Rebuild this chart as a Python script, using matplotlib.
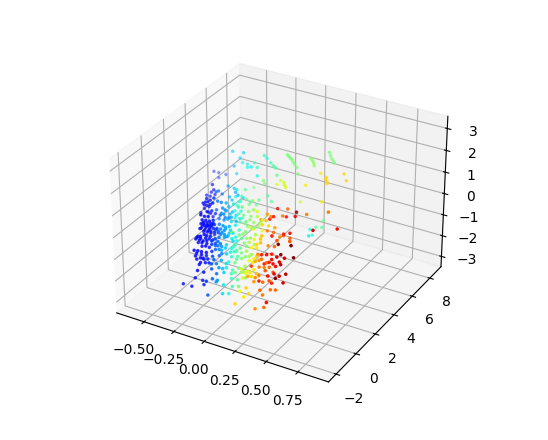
import matplotlib
matplotlib.use("Agg")
import matplotlib.pyplot as plt
from mpl_toolkits.mplot3d import Axes3D  # noqa

# values, grouped by colour band
blue_x = [-.41,-.37,-.37,-.31,-.23,-.16,-.13,
          -.29,-.28,-.30,-.34,-.27,-.31,
          -.25,-.28,-.24,-.22,-.19,-.25,-.23,-.27,-.30,
          -.21,
          -.24,-.21,
          -.18,-.15,
          -.20,
          -.20,-.17,-.14,-.11,-.19,-.16,-.13,-.10,-.21,-.18,-.15,-.13,-.09,-.22,
          -.19,-.17,-.14,-.12,-.09,
          -.10,
          -.21,-.18,-.15,-.12,-.08,-.05,-.16,-.13,-.10,
          -.18,-.15,-.12,-.08,
          -.08,
          -.17,-.13,-.11,-.07,-.13,-.09,-.06,-.14,
          -.11,-.06,-.07,-.06,-.04]
blue_y = [3,3,3,3,-2,-2,-2,
          1.5,1.5,1.5,1.5,1.5,1.5,
          .5,.5,.5,.5,.5,.5,.5,.5,.5,
          -.5,
          .5,.5,
          -.5,-.5,
          .5,
          -.5,-.5,-.5,-.5,-.5,-.5,-.5,-.5,-.5,-.5,-.5,-.5,-.5,-.5,
          -1,-1,-1,-1,-1,
          -.5,
          -1,-1,-1,-1,-1,-1,-1,-1,-1,
          -1.5,-1.5,-1.5,-1.5,
          -1,
          -1.5,-1.5,-1.5,-1.5,-1.5,-1.5,-1.5,-1.5,
          -2,-2,-2,-2,-2]
blue_z = [1.29,1.29,1.06,1.30,-1.56,-1.55,-1.11,
          1.45,1.23,1.09,.89,1.03,.89,
          1.27,1.02,1.14,1.25,1.39,.96,.94,.79,.55,
          1.0,
          .68,.78,
          .98,1.02,
          .53,
          .79,.82,.83,.92,.63,.59,.61,.74,.39,.37,.39,.39,.53,.36,
          .26,.30,.43,.41,.42,
          .29,
          .11,.11,.12,.18,.24,.38,-.14,-.08,-.09,
          -.15,-.12,-.11,-.08,
          -.24,
          -.39,-.41,-.40,-.36,-.62,-.56,-.52,-.73,
          -.74,-.73,-1.12,-1.30,-1.11]
blue_c = [.12,.15,.15,.19,.11,.11,.13,
          .13,.13,.12,.11,.14,.12,
          .12,.11,.13,.14,.16,.12,.13,.11,.10,
          .10,
          .13,.14,
          .12,.13,
          .15,
          .11,.12,.14,.16,.11,.13,.14,.17,.10,.12,.13,.15,.18,.09,
          .09,.10,.12,.13,.15,
          .17,
          .09,.10,.11,.13,.15,.19,.11,.12,.14,
          .10,.11,.12,.14,
          .16,
          .10,.11,.12,.15,.12,.13,.15,.10,
          .12,.15,.15,.16,.17]

# second pass over the dense blue core
blue2_x = [-.19,-.16,-.13,-.11,-.20,-.17,-.14,-.11,-.08,-.19,-.16,-.13,-.10,-.07,-.21,-.12,-.15,-.18,
           -.20,-.17,-.13,-.10,-.07,-.16,-.12,-.08,-.05,-.19,-.03,
           -.16,-.12,-.08,-.16,-.10,
           -.27,-.26,-.22,-.20,-.25,-.22,-.18]
blue2_y = [-.5,-.5,-.5,-.5,-.5,-.5,-.5,-.5,-.5,-.5,-.5,-.5,-.5,-.5,-.5,-.5,-.5,-.5,
           -1,-1,-1,-1,-1,-1,-1,-1,-1,-1,-1,
           -1.5,-1.5,-1.5,-1.5,-1.5,
           .5,.5,.5,.5,.5,.5,.5]
blue2_z = [.70,.72,.74,.78,.50,.50,.50,.55,.60,.28,.30,.30,.40,.42,.60,.68,.62,.58,
           .20,.20,.28,.30,.30,.02,.05,.08,.18,-.02,.30,
           -.25,-.24,-.22,-.52,-.42,
           .95,1.10,1.05,1.15,.68,.65,.70]
blue2_c = [.11,.12,.14,.15,.10,.12,.13,.15,.18,.10,.12,.13,.15,.19,.09,.14,.13,.11,
           .10,.11,.13,.15,.18,.11,.14,.17,.2,.10,.22,
           .11,.13,.16,.11,.14,
           .11,.12,.13,.14,.11,.13,.15]

sky_x = [-.24,-.26,-.21,-.16,-.13,-.17,-.13,-.11,-.15,-.11,-.06,-.03,-.07,-.04,-.01,-.02,-.02,-.05,-.01,-.03,-.02,-.04,-.03,.01,0,-.04,
         -.05,-.02,-.05,-.02,0,-.03,0,-.02,-.05,0,-.12,-.10,-.10,-.14,-.07,0,.02,-.02]
sky_y = [1.5,1.5,1.5,.5,.5,.5,.5,.5,.5,.5,-.5,-.5,-.5,-.5,-.5,-1,-.5,-1,-1,-1.5,-1,-1.5,-2,-2,-1.5,-1.5,
         -.5,-.5,-.5,-.5,-.5,-1,-1,-1,-1,-1,.5,.5,.5,.5,.5,-1.5,-1.5,-1.5]
sky_z = [1.24,1.17,1.15,1.30,1.29,.89,.80,.78,.52,.52,.82,.80,.50,.48,.70,.50,.29,.08,.23,-.17,-.33,-.76,-1.73,-.91,-.91,-.53,
         .62,.60,.38,.42,.36,.10,.12,-.05,-.10,-.20,1.05,1.00,.65,.70,.70,-.45,-.60,-.30]
sky_c = [.22,.2,.24,.24,.25,.22,.25,.27,.23,.26,.25,.28,.23,.26,.29,.24,.27,.21,.24,.2,.22,.2,.2,.22,.23,.2,
         .26,.28,.25,.27,.28,.24,.27,.25,.22,.26,.25,.26,.24,.23,.27,.24,.27,.22]

cyan_x = [-.25,-.19,-.16,-.17,-.13,-.24,-.22,-.16,-.11,-.09,-.15,-.13,-.10,-.09,-.07,-.03,-.07,-.09,-.06,-.02,.01,-.08,-.05,-.02,-.01,.03,.07,.01,.04,0,.04,.08,.04,.08,.05,.05,.10,.09,.14,.04,
          .02,.05,.07,.05,.08,.02,.03,.07,.10,.04,.12,.10,-.04,-.01,.03,-.01,.02,-.05,.08,.10,.12,.06,-.08,-.04,-.10]
cyan_y = [3,3,3,3,3,3,3,1.5,1.5,1.5,1.5,1.5,1.5,.5,.5,.5,1.5,.5,.5,.5,.5,.5,.5,.5,-.5,-.5,-.5,-.5,-.5,-1,-1,-1,-1.5,-1.5,-1.5,-2,-2,-2,-2,-2,
          -.5,-.5,-.5,-.5,-.5,-.5,-1,-1,-1,-1,-1,-1,.5,.5,.5,.5,.5,.5,-1.5,-1.5,-1.5,-1.5,1.5,1.5,1.5]
cyan_z = [2.45,2.24,2.52,2.06,2.05,1.79,1.48,1.59,1.56,1.53,1.11,1.0,1.20,1.33,1.20,1.38,1.02,.97,.88,1.09,1.30,.61,.55,.76,.77,.70,.99,.42,.33,-.05,.26,.17,-.23,-.31,-.59,-.91,-1.03,-1.45,-1.36,-1.0,
          .55,.60,.45,.25,.30,.85,.10,-.02,.05,-.15,.10,.30,1.00,.90,1.15,.62,.80,.75,-.50,-.20,-.70,-.75,1.30,1.25,1.40]
cyan_c = [.33,.34,.33,.36,.36,.3,.32,.3,.33,.36,.3,.32,.36,.3,.32,.36,.4,.3,.33,.38,.4,.3,.34,.38,.3,.34,.38,.32,.36,.3,.34,.38,.3,.35,.32,.28,.36,.34,.38,.28,
          .33,.36,.39,.34,.38,.31,.33,.37,.4,.33,.42,.4,.32,.35,.4,.31,.36,.3,.36,.4,.42,.33,.31,.34,.3]

green_x = [-.05,-.02,-.08,-.06,-.01,0,.04,.01,.04,.01,.05,.09,.13,.02,.06,.10,.16,.10,.15,.11,.17,.12,.19,.23,.11,.15,.20,.22,.08,.13,.19,.24,.13,.18,.23,.12,.17,.17,.22,.23,
           .04,.07,.11,.13,.08,.14,.20,.18,.10,.13,.16,.18,.14,.12,.16,.20,.16,.22,.12,.15,.20,.15,.22,.02,.07,.09]
green_y = [1.5,1.5,3,1.5,1.5,.5,.5,1.5,1.5,.5,.5,.5,.5,.5,.5,.5,.5,-.5,-.5,.5,.5,-.5,-.5,-.5,-1,-1,-1,-.5,-1,-1,-1,-1,-1.5,-1.5,-1.5,-1.5,-1.5,-2,-2,-1.5,
           .5,.5,.5,.5,.5,.5,.5,.5,-.5,-.5,-.5,-.5,-.5,-1,-1,-1,-1,-1,-1,-1.5,-1.5,-1.5,-1.5,1.5,1.5,1.5]
green_z = [1.30,1.65,1.06,1.05,1.23,1.36,1.36,1.02,1.24,1.0,1.0,1.23,1.38,.65,.65,.88,1.12,.82,.83,.52,.70,.48,.61,.83,.38,.30,.47,.36,-.21,-.11,-.02,.17,-.52,-.34,-.17,-.92,-.89,-.98,-.89,-.70,
           .85,.75,1.05,.80,.55,.60,1.00,.85,.60,.70,.55,.40,.30,.15,.10,.25,-.15,.05,-.25,-.60,-.50,-.15,-.45,1.15,1.10,1.35]
green_c = [.44,.46,.5,.42,.48,.44,.48,.5,.52,.44,.48,.52,.55,.44,.5,.52,.58,.44,.5,.52,.56,.46,.52,.56,.42,.46,.5,.56,.4,.45,.5,.55,.44,.5,.55,.42,.46,.44,.5,.54,
           .45,.47,.5,.52,.46,.52,.58,.55,.48,.5,.54,.56,.5,.46,.5,.55,.5,.56,.45,.48,.54,.5,.56,.44,.47,.48]

yellow_x = [.04,.09,.24,.24,.27,.25,.25,.30,.23,.30,.19,.21,.27,.28,.16,.20,.23,
            .13,.20,.25,.22,.27,.24,.26,.22,.28,.28,.24,.32,.20,.26,.28]
yellow_y = [-.5,.5,-1,-.5,-.5,-1,-1.5,-1.5,-2,-2,-2,-1.5,-1.5,-.5,.5,.5,.5,
            .5,.5,.5,-.5,-.5,-.5,-1,-1,-1,-1.5,-1.5,-1.5,-1.5,-2,-2]
yellow_z = [.64,.55,.47,.41,.53,-.18,-.36,-.20,-1.09,-1.08,-1.74,-.74,-.39,.86,1.35,.82,1.05,
            .50,.55,.85,.60,.70,.25,.00,-.15,.15,-.55,-.50,-.35,-.35,-1.30,-.85]
yellow_c = [.65,.62,.64,.68,.7,.66,.62,.66,.64,.68,.68,.62,.66,.7,.62,.68,.7,
            .62,.64,.68,.65,.7,.66,.66,.62,.68,.68,.64,.7,.62,.66,.68]

orange_x = [.24,.29,.19,.27,.27,.32,.30,.25,.31,.39,.43,.47,.41,.35,.42,.39,.38,.41,.29,.32,.47,.64,.24,.28,.42,.50,.37,
            .34,.30,.37,.42,.30,.36,.34,.33,.38,.40,.30,.34]
orange_y = [.5,.5,.5,.5,-1,-1,-1,-1.5,-1.5,-2,-1.5,-1.5,-2,-2,-2,-1.5,-1,-1,-1,1.5,1.5,1.5,.5,1.5,.5,-.5,.5,
            -1.5,-1.5,-1.5,-1.5,-1,-1,-1,-.5,-.5,-.5,.5,.5]
orange_z = [.61,.62,1.03,1.30,-.09,.09,-.30,-.59,-.55,-.76,-.89,-.83,-.94,-1.68,-1.49,-.09,-.17,-.35,.26,1.32,1.32,1.70,1.36,.94,.57,.98,.61,
            -.40,-.75,-.65,-.50,.00,.00,-.25,.50,.55,.85,.85,.50]
orange_c = [.78,.8,.74,.76,.74,.78,.78,.74,.76,.8,.8,.8,.78,.76,.8,.82,.8,.82,.76,.8,.78,.78,.74,.8,.82,.82,.82,
            .78,.75,.8,.82,.75,.8,.77,.76,.8,.82,.74,.78]

red_x = [.24,.39,.38,.31,.29,.26,.60,.71,.36,.37,.42,.41,.51,.32,.36,.40,.44,.43,.50,.53,.41,.46,.46,.47,.51,.53,.44,.34,.44,.28,.34,
         .38,.43,.47,.40,.41,.50]
red_y = [1.5,1.5,1.5,1.5,.5,.5,.5,1.5,-.5,.5,.5,-.5,-.5,-1,-1,-1,-1,-.5,-1,-.5,-1,-1,-1.5,-1.5,-1,-1.5,-1.5,-1.5,-2,-1.5,-1,
         -1,-1,-1,-1,-1.5,-1.5]
red_z = [1.21,1.29,1.08,.95,1.33,1.17,1.23,1.06,.99,.68,.80,.70,.81,.29,.36,.21,.39,.27,.44,.30,.03,.20,-.12,-.30,-.26,-.40,-.57,-.65,-1.23,-.08,-.09,
         .05,-.05,.10,.45,-.30,-.15]
red_c = [.9,.98,.92,.9,.88,.88,.92,.9,.88,.88,.9,1,1,.88,.9,.9,.92,1,.92,1,.9,.92,.9,1,.95,.92,.88,.88,.9,.85,.88,
         .88,.9,.93,.88,.9,.93]

# far arms of the cloud, pale in the picture
far_x = [.03,.05,.07,.09,.11,
         .22,.24,.25,
         .37,.39,.41,
         -.07,-.05,
         -.16,.03,.08,.10,
         -.10,-.13,-.05,
         0,.01,
         .14,.17,.18,
         .11,.11,.28,
         .16,.19,
         .46,.49,.51,
         .34,.50,.51,.47,
         .09,.12,.10,.15,.21,.20,
         .42,
         .04,.06,.08,.23,.245,.38,.40,
         .06,.165,.09,.175,.51,.505]
far_y = [5,5,5,5,5,
         5,5,5,
         5,5,5,
         3,3,
         5,3,3,3,
         3,3,3,
         3,3,
         3,3,3,
         3,3,3,
         1.5,1.5,
         3,5,5,
         3,3,3,3,
         6.5,6.5,6.5,6.5,6.5,6.5,
         1.5,
         5,5,5,5,5,5,5,
         3,3,3,3,3,3]
far_z = [1.97,1.88,1.79,1.61,1.50,
         2.11,1.98,1.80,
         2.59,2.35,2.17,
         2.2,2.02,
         1.64,2.56,2.30,2.23,
         1.97,1.91,1.64,
         1.50,1.38,
         1.74,1.61,1.47,
         1.92,1.50,2.24,
         1.65,1.45,
         2.55,1.80,1.52,
         1.83,2.35,2.17,1.29,
         -2.35,-2.26,-2.02,-1.83,-1.42,-1.76,
         1.80,
         1.92,1.84,1.70,2.05,1.90,2.47,2.26,
         2.40,1.68,2.27,1.54,2.26,2.44]
far_c = [.5,.5,.5,.5,.5,
         .52,.52,.52,
         .5,.5,.5,
         .42,.42,
         .4,.4,.45,.45,
         .36,.38,.38,
         .5,.5,
         .6,.6,.62,
         .47,.62,.5,
         .45,.45,
         .66,.68,.68,
         .66,.68,.68,.66,
         .35,.4,.38,.45,.48,.45,
         .6,
         .5,.5,.5,.52,.52,.5,.5,
         .42,.6,.45,.62,.68,.68]

xs = blue_x + blue2_x + sky_x + cyan_x + green_x + yellow_x + orange_x + red_x
ys = blue_y + blue2_y + sky_y + cyan_y + green_y + yellow_y + orange_y + red_y
zs = blue_z + blue2_z + sky_z + cyan_z + green_z + yellow_z + orange_z + red_z
cs = blue_c + blue2_c + sky_c + cyan_c + green_c + yellow_c + orange_c + red_c

fig = plt.figure(figsize=(5.48, 4.40), dpi=100)
ax = fig.add_axes([0.161, 0.0716, 0.688, 0.857], projection="3d")
# reference is a touch flatter than the default box
ax.set_box_aspect((4, 4, 2.9), zoom=0.992)
ax.scatter(far_x, far_y, far_z, c=far_c, cmap="jet", vmin=0, vmax=1, s=2.5, alpha=0.6, depthshade=False)
ax.scatter(xs, ys, zs, c=cs, cmap="jet", vmin=0, vmax=1, s=2.5)

ax.set_xlim(-0.733, 0.987)
ax.set_ylim(-2.75, 9.3)
ax.set_zlim(-3.5, 3.55)
ax.set_xticks([-0.5, -0.25, 0, 0.25, 0.5, 0.75])
ax.set_yticks([-2, 0, 2, 4, 6, 8])
ax.set_zticks([-3, -2, -1, 0, 1, 2, 3])

fig.savefig("out.png", dpi=100)
